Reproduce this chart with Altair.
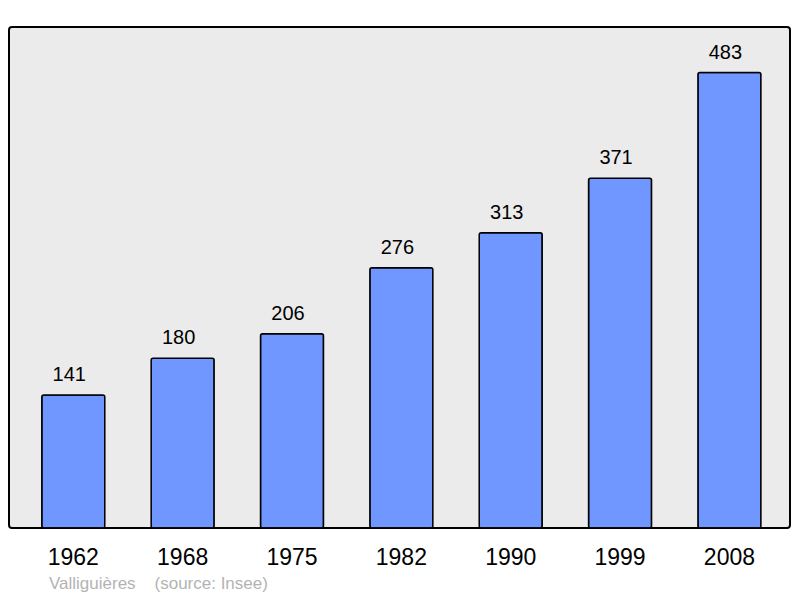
import altair as alt
import pandas as pd

years = ["1962", "1968", "1975", "1982", "1990", "1999", "2008"]
population = [141, 180, 206, 276, 313, 371, 483]
footer = "Valliguières\u00a0\u00a0\u00a0\u00a0(source: Insee)"

df = pd.DataFrame({"year": years, "pop": population})

FONT = "Liberation Sans"

x = alt.X(
    "year:N",
    sort=years,
    scale=alt.Scale(paddingInner=0.424, paddingOuter=0.283, align=0.53),
    axis=alt.Axis(
        title=None,
        ticks=False,
        domain=False,
        grid=False,
        labelFontSize=23,
        labelFont=FONT,
        labelColor="black",
        labelPadding=18,
        labelAngle=0,
    ),
)
y = alt.Y("pop:Q", scale=alt.Scale(domain=[0, 531.3], nice=False), axis=None)

base = alt.Chart(df)

bars = base.mark_bar(
    color="#7096ff",
    stroke="black",
    strokeWidth=1.5,
    cornerRadius=2,
).encode(x=x, y=y)

labels = base.mark_text(
    font=FONT,
    fontSize=20,
    color="black",
    baseline="alphabetic",
    dy=-14,
    dx=-4,
).encode(x=x, y=y, text="pop:Q")

chart = (
    alt.layer(bars, labels)
    .properties(
        width=781,
        height=501,
        autosize=alt.AutoSizeParams(type="none"),
        padding={"left": 1, "top": 19, "right": 2, "bottom": 68},
        title=alt.TitleParams(
            text=footer,
            orient="bottom",
            anchor="start",
            frame="group",
            font=FONT,
            fontSize=17,
            fontWeight="normal",
            color="#b3b3b3",
            dx=40,
            offset=7,
        ),
    )
    .configure(background="white")
    .configure_view(
        fill="#ebebeb",
        stroke="black",
        strokeWidth=2,
        cornerRadius=3,
    )
)

chart.save("out.html", embed_options={"renderer": "svg", "actions": False})
